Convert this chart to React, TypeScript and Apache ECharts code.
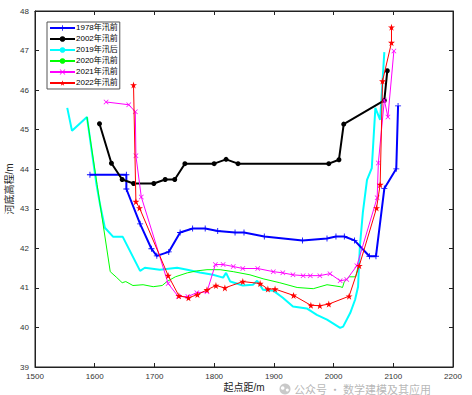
import React, { useEffect, useRef } from "react";
import * as echarts from "echarts";

const seriesNames = ["1978年汛前", "2002年汛前", "2019年汛后", "2020年汛前", "2021年汛前", "2022年汛前"];

const x1978 = [1592, 1653, 1653, 1676, 1695, 1704, 1724, 1743, 1764, 1785, 1806, 1835, 1850, 1884, 1948, 1989, 2004, 2018, 2035, 2060, 2071, 2085, 2105, 2108];
const y1978 = [43.86, 43.86, 43.5, 42.62, 41.99, 41.81, 41.91, 42.4, 42.5, 42.5, 42.44, 42.4, 42.4, 42.3, 42.2, 42.25, 42.3, 42.3, 42.2, 41.8, 41.8, 43.51, 44.01, 45.6];

const x2002 = [1608, 1628, 1646, 1665, 1699, 1718, 1734, 1751, 1800, 1820, 1840, 1992, 2009, 2017, 2085, 2090];
const y2002 = [45.15, 44.15, 43.74, 43.64, 43.64, 43.74, 43.74, 44.14, 44.14, 44.25, 44.14, 44.14, 44.24, 45.14, 45.74, 46.49];

const x2019 = [1554, 1562, 1587, 1603, 1609, 1617, 1631, 1647, 1676, 1684, 1709, 1738, 1755, 1776, 1798, 1815, 1820, 1827, 1848, 1865, 1872, 1882, 1899, 1915, 1932, 1955, 1972, 1989, 2011, 2016, 2028, 2036, 2041, 2044, 2049, 2056, 2064, 2070, 2078, 2085];
const y2019 = [45.55, 44.97, 45.32, 43.61, 43.1, 42.52, 42.29, 42.29, 41.43, 41.51, 41.46, 41.51, 41.46, 41.39, 41.33, 41.26, 41.38, 41.16, 41.06, 41.08, 41.18, 40.95, 40.93, 40.75, 40.53, 40.48, 40.32, 40.2, 39.99, 40.02, 40.37, 40.7, 41.03, 42.04, 42.9, 43.73, 44.03, 45.55, 45.25, 46.96];

const x2020 = [1587, 1604, 1626, 1637, 1646, 1652, 1664, 1681, 1698, 1713, 1721, 1735, 1755, 1771, 1788, 1810, 1832, 1860, 1882, 1910, 1939, 1966, 1989, 2011, 2015, 2018, 2026, 2037, 2041];
const y2020 = [45.32, 43.61, 41.41, 41.26, 41.13, 41.16, 41.06, 41.08, 41.03, 41.06, 41.16, 41.28, 41.38, 41.43, 41.46, 41.46, 41.41, 41.33, 41.23, 41.13, 41.01, 40.98, 41.08, 41.03, 41.01, 41.16, 41.28, 41.28, 41.54];

const x2021 = [1619, 1657, 1668, 1669, 1678, 1723, 1740, 1756, 1771, 1788, 1802, 1815, 1832, 1848, 1873, 1899, 1915, 1932, 1949, 1961, 1977, 1994, 2011, 2022, 2039, 2073, 2075, 2085, 2091, 2101];
const y2021 = [45.7, 45.63, 45.45, 44.34, 43.3, 41.11, 40.78, 40.78, 40.88, 40.9, 41.59, 41.59, 41.54, 41.49, 41.49, 41.41, 41.38, 41.33, 41.31, 41.31, 41.31, 41.36, 41.18, 41.21, 41.56, 43.28, 44.16, 45.75, 45.32, 46.99];

const x2022 = [1665, 1669, 1675, 1723, 1741, 1757, 1772, 1788, 1803, 1818, 1848, 1877, 1890, 1902, 1933, 1962, 1977, 1992, 2026, 2043, 2072, 2078, 2082, 2097, 2097];
const y2022 = [46.13, 43.18, 43.02, 41.31, 40.8, 40.75, 40.83, 40.95, 41.06, 41.0, 41.16, 41.11, 40.97, 40.97, 40.81, 40.56, 40.55, 40.59, 40.79, 41.56, 43.02, 43.61, 46.23, 47.2, 47.59];

const xTicks = [1500, 1600, 1700, 1800, 1900, 2000, 2100, 2200];
const yTicks = [39, 40, 41, 42, 43, 44, 45, 46, 47, 48];

const PLUS = "path://M4.3,0H5.7V4.3H10V5.7H5.7V10H4.3V5.7H0V4.3H4.3Z";
const CROSS = "path://M0,1 L1,0 L5,4 L9,0 L10,1 L6,5 L10,9 L9,10 L5,6 L1,10 L0,9 L4,5 Z";
const STAR = "path://M50,0 L61,35 L98,35 L68,57 L79,91 L50,70 L21,91 L32,57 L2,35 L39,35 Z";

function zip(xs: number[], ys: number[]) {
  return xs.map((x, i) => [x, ys[i]]);
}

export default function App() {
  const ref = useRef<HTMLDivElement>(null);
  useEffect(() => {
    if (!ref.current) return;
    const chart = echarts.init(ref.current, null, { renderer: "svg" });
    const font = "Liberation Sans, Arial, sans-serif";
    const cjk = "Liberation Sans, Noto Sans CJK SC, sans-serif";
    const mk = (name: string, xs: number[], ys: number[], color: string, width: number, symbol: string, size: number, z: number) => ({
      name,
      type: "line",
      data: zip(xs, ys),
      showSymbol: symbol !== "none",
      symbol,
      symbolSize: size,
      z,
      lineStyle: { color, width },
      itemStyle: { color, borderWidth: 0 },
      emphasis: { disabled: true },
    });
    chart.setOption({
      animation: false,
      grid: {
        left: 35,
        right: 19,
        top: 11,
        bottom: 28,
        containLabel: false,
        outerBoundsMode: "none",
        show: true,
        borderColor: "#222",
        borderWidth: 1,
        backgroundColor: "transparent",
      },
      legend: {
        orient: "vertical",
        left: 47,
        top: 22,
        width: 70,
        padding: [2, 2, 2, 2],
        borderColor: "#555",
        borderWidth: 1,
        backgroundColor: "#fff",
        itemWidth: 25,
        itemHeight: 7,
        itemGap: 3,
        textStyle: { fontSize: 8, fontFamily: cjk, color: "#000", padding: [0, 0, 0, -4] },
        data: seriesNames,
      },
      xAxis: [
        {
          type: "value",
          min: 1500,
          max: 2200,
          interval: 100,
          name: "起点距/m",
          nameLocation: "middle",
          nameGap: 15,
          nameMoveOverlap: false,
          nameTextStyle: { fontSize: 10, fontFamily: cjk, color: "#222" },
          axisLine: { show: true, onZero: false, lineStyle: { color: "#222" } },
          axisTick: { show: true, inside: true, length: 4, lineStyle: { color: "#222" } },
          axisLabel: { fontSize: 8, fontFamily: font, color: "#333", margin: 5, formatter: (v: number) => (xTicks.includes(v) ? String(v) : "") },
          splitLine: { show: false },
        },
        {
          type: "value",
          position: "top",
          min: 1500,
          max: 2200,
          interval: 100,
          axisLine: { show: true, lineStyle: { color: "#222" } },
          axisTick: { show: true, inside: true, length: 4, lineStyle: { color: "#222" } },
          axisLabel: { show: false },
          splitLine: { show: false },
        },
      ],
      yAxis: [
        {
          type: "value",
          min: 39,
          max: 48,
          interval: 1,
          name: "河底高程/m",
          nameLocation: "middle",
          nameRotate: 90,
          nameGap: 21,
          nameMoveOverlap: false,
          nameTextStyle: { fontSize: 10, fontFamily: cjk, color: "#222" },
          axisLine: { show: true, onZero: false, lineStyle: { color: "#222" } },
          axisTick: { show: true, inside: true, length: 4, lineStyle: { color: "#222" } },
          axisLabel: { fontSize: 8, fontFamily: font, color: "#333", margin: 6, formatter: (v: number) => (yTicks.includes(v) ? String(v) : "") },
          splitLine: { show: false },
        },
        {
          type: "value",
          position: "right",
          min: 39,
          max: 48,
          interval: 1,
          axisLine: { show: true, lineStyle: { color: "#222" } },
          axisTick: { show: true, inside: true, length: 4, lineStyle: { color: "#222" } },
          axisLabel: { show: false },
          splitLine: { show: false },
        },
      ],
      graphic: [
        { type: "circle", shape: { cx: 285, cy: 389, r: 5.5 }, style: { fill: "#c9c9c9" }, z: 100 },
        { type: "circle", shape: { cx: 282.7, cy: 388, r: 1.8 }, style: { fill: "#fff" }, z: 101 },
        { type: "circle", shape: { cx: 287.3, cy: 390, r: 1.5 }, style: { fill: "#fff" }, z: 101 },
        {
          type: "text",
          left: 294,
          top: 383,
          z: 100,
          style: { text: "公众号 · 数学建模及其应用", fontSize: 11, fontFamily: "Noto Sans CJK SC", fill: "rgba(170,170,170,0.85)" },
        },
      ],
      series: [
        mk(seriesNames[0], x1978, y1978, "#0000ff", 2, PLUS, 6, 2),
        mk(seriesNames[1], x2002, y2002, "#000000", 2, "circle", 5, 3),
        mk(seriesNames[2], x2019, y2019, "#00ffff", 2, "none", 0, 1),
        mk(seriesNames[3], x2020, y2020, "#00ff00", 1, "none", 0, 1),
        mk(seriesNames[4], x2021, y2021, "#ff00ff", 1, CROSS, 5, 4),
        mk(seriesNames[5], x2022, y2022, "#ff0000", 1, STAR, 7, 5),
      ],
    });
    return () => chart.dispose();
  }, []);
  return <div ref={ref} style={{ position: "fixed", left: 0, top: 0, width: 472, height: 395, background: "#fff" }} />;
}
